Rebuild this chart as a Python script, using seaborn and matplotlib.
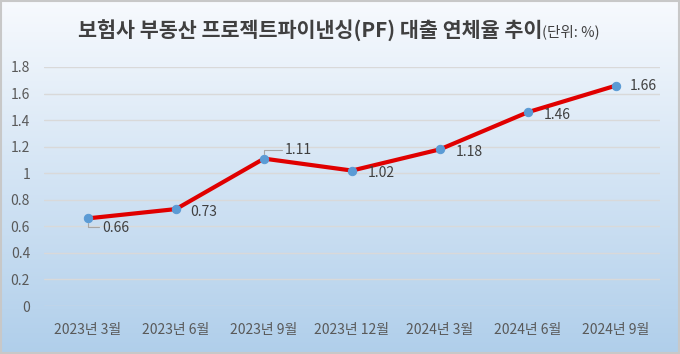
import numpy as np
import pandas as pd
import matplotlib.pyplot as plt
import seaborn as sns

periods = ['2023년 3월', '2023년 6월', '2023년 9월', '2023년 12월',
           '2024년 3월', '2024년 6월', '2024년 9월']
rates = [0.66, 0.73, 1.11, 1.02, 1.18, 1.46, 1.66]
y_ticks = [0, 0.2, 0.4, 0.6, 0.8, 1, 1.2, 1.4, 1.6, 1.8]
y_tick_labels = ['0', '0.2', '0.4', '0.6', '0.8', '1', '1.2', '1.4', '1.6', '1.8']

sns.set_theme(style='white')
plt.rcParams['font.family'] = ['Noto Sans CJK KR', 'DejaVu Sans']

df = pd.DataFrame({'period': periods, 'rate': rates})

fig = plt.figure(figsize=(6.8, 3.54), dpi=100)

# gradient background over the whole figure
bg = fig.add_axes([0, 0, 1, 1], zorder=-10)
top = np.array([0.97, 0.98, 0.995])
bottom = np.array([0.69, 0.81, 0.92])
t = np.linspace(0, 1, 256)[:, None]
grad = top[None, :] * (1 - t) + bottom[None, :] * t
bg.imshow(grad[:, None, :], aspect='auto', extent=[0, 1, 0, 1])
bg.set_xlim(0, 1)
bg.set_ylim(0, 1)
bg.axis('off')
bg.add_patch(plt.Rectangle((0.001, 0.002), 0.997, 0.995, fill=False,
                           edgecolor='#c8c8c8', linewidth=1.5))

ax = fig.add_axes([44 / 680, 1 - 306 / 354, 616 / 680, 239 / 354])
ax.patch.set_alpha(0)

sns.lineplot(data=df, x='period', y='rate', sort=False, ax=ax,
             color='#e00000', linewidth=3, marker='o', markersize=6,
             markerfacecolor='#5b9bd5', markeredgecolor='#5b9bd5', zorder=3)

ax.set_xlim(-0.5, len(periods) - 0.5)
ax.set_ylim(0, 1.8)
ax.set_yticks(y_ticks)
ax.set_yticklabels(y_tick_labels)
ax.set_xlabel('')
ax.set_ylabel('')
ax.grid(axis='y', color='#d9d9d9', linewidth=1)
ax.grid(axis='x', visible=False)
for s in ax.spines.values():
    s.set_visible(False)
ax.tick_params(axis='both', length=0, colors='#595959')
ax.tick_params(axis='x', pad=12, labelsize=10)
ax.tick_params(axis='y', pad=10, labelsize=10)

# value labels
offsets = {0: (10, -7), 1: (10, -2), 2: (15, 6), 3: (11, -2),
           4: (11, -2), 5: (11, -2), 6: (10, 0)}
for i, v in enumerate(rates):
    dx, dy = offsets[i]
    ax.annotate(f'{v:.2f}', (i, v), xytext=(dx, dy), textcoords='offset points',
                ha='left', va='center', fontsize=10, color='#404040', zorder=4)
# leader lines for 0.66 and 1.11
for i, (dx, dy) in [(0, (8, -6)), (2, (13, 6))]:
    ax.annotate('', (i, rates[i]), xytext=(dx, dy), textcoords='offset points',
                arrowprops=dict(arrowstyle='-', color='#a6a6a6', lw=0.8,
                                shrinkA=0, shrinkB=3,
                                connectionstyle='angle,angleA=0,angleB=90,rad=0'))

# title in two parts
t1 = fig.text(78 / 680, 1 - 31 / 354, '보험사 부동산 프로젝트파이낸싱(PF) 대출 연체율 추이',
              fontsize=14.9, fontweight='bold', color='#404040', va='center', ha='left')
fig.canvas.draw()
bb = t1.get_window_extent()
fig.text(bb.x1 / fig.bbox.width, 1 - 32 / 354, '(단위: %)', fontsize=10.5,
         color='#404040', va='center', ha='left')

fig.savefig('out.png', dpi=100)
